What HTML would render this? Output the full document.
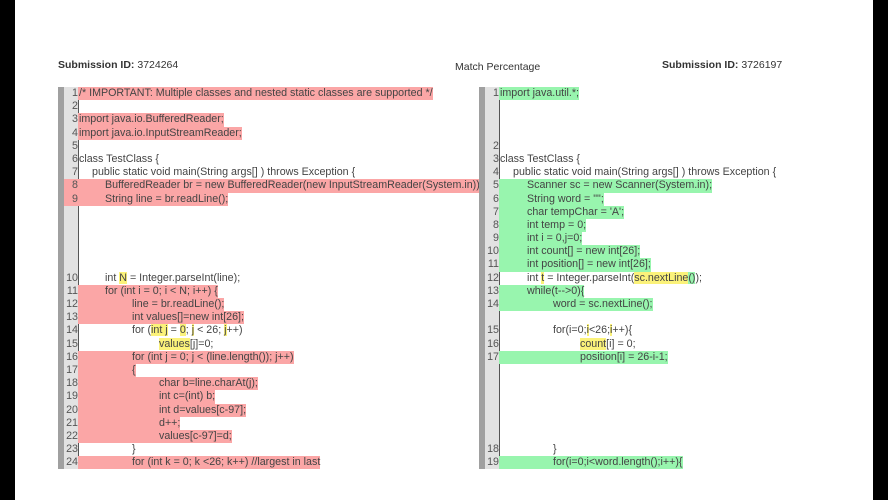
<!DOCTYPE html>
<html><head><meta charset="utf-8"><style>
*{margin:0;padding:0;box-sizing:border-box}
body{width:888px;height:500px;background:#fff;position:relative;overflow:hidden;font-family:"Liberation Sans",sans-serif;color:#444;font-size:10.7px}
.bl{position:absolute;top:0;left:0;width:15px;height:500px;background:#000}
.br{position:absolute;top:0;left:873px;width:15px;height:500px;background:#000}
.h{position:absolute;top:59px;font-size:10.5px;color:#333}
.h b{font-weight:bold}
.p{position:absolute;top:87px;height:382px}
.g{position:absolute;top:0;width:6px;height:100%;background:#a0a0a0}
.nc{position:absolute;top:0;height:100%;background:#e2e2e2;border-right:1.5px solid #555}
.r{height:13.2px;line-height:13.2px;position:relative;white-space:pre}
.n{position:absolute;text-align:right;color:#555}
.c{position:absolute;top:0;height:13.2px}
.red{background:#fba6a6}.grn{background:#98f5ae}.y{background:#fbf27a}
</style></head><body>
<div class="bl"></div><div class="br"></div>
<div class="h" style="left:58px"><b>Submission ID:</b> 3724264</div>
<div class="h" style="left:455px;top:61px">Match Percentage</div>
<div class="h" style="left:662px"><b>Submission ID:</b> 3726197</div>

<div class="p" style="left:58px;width:422px">
<div class="g" style="left:0"></div>
<div class="nc" style="left:6px;width:15px"></div>
<div style="position:absolute;left:0;top:0;width:422px">
<div class="r"><span class="n" style="left:6px;width:14px">1</span><span class="c red" style="left:20px;padding-left:1px">/* IMPORTANT: Multiple classes and nested static classes are supported */</span></div>
<div class="r"><span class="n" style="left:6px;width:14px">2</span></div>
<div class="r"><span class="n" style="left:6px;width:14px">3</span><span class="c red" style="left:20px;padding-left:1px">import java.io.BufferedReader;</span></div>
<div class="r"><span class="n" style="left:6px;width:14px">4</span><span class="c red" style="left:20px;padding-left:1px">import java.io.InputStreamReader;</span></div>
<div class="r"><span class="n" style="left:6px;width:14px">5</span></div>
<div class="r"><span class="n" style="left:6px;width:14px">6</span><span class="c" style="left:20px;padding-left:1px">class TestClass {</span></div>
<div class="r"><span class="n" style="left:6px;width:14px">7</span><span class="c" style="left:20px;padding-left:14px">public static void main(String args[] ) throws Exception {</span></div>
<div class="r"><span class="n red" style="left:6px;width:14px">8</span><span class="c red" style="left:20px;padding-left:27px">BufferedReader br = new BufferedReader(new InputStreamReader(System.in));</span></div>
<div class="r"><span class="n red" style="left:6px;width:14px">9</span><span class="c red" style="left:20px;padding-left:27px">String line = br.readLine();</span></div>
<div class="r"></div><div class="r"></div><div class="r"></div><div class="r"></div><div class="r"></div>
<div class="r"><span class="n" style="left:6px;width:14px">10</span><span class="c" style="left:20px;padding-left:27px">int <span class="y">N</span> = Integer.parseInt(line);</span></div>
<div class="r"><span class="n" style="left:6px;width:14px">11</span><span class="c red" style="left:20px;padding-left:27px">for (int i = 0; i &lt; N; i++) {</span></div>
<div class="r"><span class="n" style="left:6px;width:14px">12</span><span class="c red" style="left:20px;padding-left:54px">line = br.readLine();</span></div>
<div class="r"><span class="n" style="left:6px;width:14px">13</span><span class="c red" style="left:20px;padding-left:54px">int values[]=new int[26];</span></div>
<div class="r"><span class="n" style="left:6px;width:14px">14</span><span class="c" style="left:20px;padding-left:54px">for (<span class="y">int j</span> = <span class="y">0</span>; <span class="y">j</span> &lt; 26; <span class="y">j</span>++)</span></div>
<div class="r"><span class="n" style="left:6px;width:14px">15</span><span class="c" style="left:20px;padding-left:81px"><span class="y">values</span>[j]=0;</span></div>
<div class="r"><span class="n" style="left:6px;width:14px">16</span><span class="c red" style="left:20px;padding-left:54px">for (int j = 0; j &lt; (line.length()); j++)</span></div>
<div class="r"><span class="n" style="left:6px;width:14px">17</span><span class="c red" style="left:20px;padding-left:54px">{</span></div>
<div class="r"><span class="n" style="left:6px;width:14px">18</span><span class="c red" style="left:20px;padding-left:81px">char b=line.charAt(j);</span></div>
<div class="r"><span class="n" style="left:6px;width:14px">19</span><span class="c red" style="left:20px;padding-left:81px">int c=(int) b;</span></div>
<div class="r"><span class="n" style="left:6px;width:14px">20</span><span class="c red" style="left:20px;padding-left:81px">int d=values[c-97];</span></div>
<div class="r"><span class="n" style="left:6px;width:14px">21</span><span class="c red" style="left:20px;padding-left:81px">d++;</span></div>
<div class="r"><span class="n" style="left:6px;width:14px">22</span><span class="c red" style="left:20px;padding-left:81px">values[c-97]=d;</span></div>
<div class="r"><span class="n" style="left:6px;width:14px">23</span><span class="c" style="left:20px;padding-left:54px">}</span></div>
<div class="r"><span class="n" style="left:6px;width:14px">24</span><span class="c red" style="left:20px;padding-left:54px">for (int k = 0; k &lt;26; k++) //largest in last</span></div>
</div></div>

<div class="p" style="left:479px;width:390px">
<div class="g" style="left:0"></div>
<div class="nc" style="left:6px;width:15px"></div>
<div style="position:absolute;left:0;top:0;width:390px">
<div class="r"><span class="n" style="left:6px;width:14px">1</span><span class="c grn" style="left:20px;padding-left:1px">import java.util.*;</span></div>
<div class="r"></div><div class="r"></div><div class="r"></div>
<div class="r"><span class="n" style="left:6px;width:14px">2</span></div>
<div class="r"><span class="n" style="left:6px;width:14px">3</span><span class="c" style="left:20px;padding-left:1px">class TestClass {</span></div>
<div class="r"><span class="n" style="left:6px;width:14px">4</span><span class="c" style="left:20px;padding-left:14px">public static void main(String args[] ) throws Exception {</span></div>
<div class="r"><span class="n" style="left:6px;width:14px">5</span><span class="c grn" style="left:20px;padding-left:28px">Scanner sc = new Scanner(System.in);</span></div>
<div class="r"><span class="n" style="left:6px;width:14px">6</span><span class="c grn" style="left:20px;padding-left:28px">String word = "";</span></div>
<div class="r"><span class="n" style="left:6px;width:14px">7</span><span class="c grn" style="left:20px;padding-left:28px">char tempChar = 'A';</span></div>
<div class="r"><span class="n" style="left:6px;width:14px">8</span><span class="c grn" style="left:20px;padding-left:28px">int temp = 0;</span></div>
<div class="r"><span class="n" style="left:6px;width:14px">9</span><span class="c grn" style="left:20px;padding-left:28px">int i = 0,j=0;</span></div>
<div class="r"><span class="n" style="left:6px;width:14px">10</span><span class="c grn" style="left:20px;padding-left:28px">int count[] = new int[26];</span></div>
<div class="r"><span class="n" style="left:6px;width:14px">11</span><span class="c grn" style="left:20px;padding-left:28px">int position[] = new int[26];</span></div>
<div class="r"><span class="n" style="left:6px;width:14px">12</span><span class="c" style="left:20px;padding-left:28px">int <span class="y">t</span> = Integer.parseInt(<span class="y">sc.nextLine</span><span class="grn">()</span>);</span></div>
<div class="r"><span class="n" style="left:6px;width:14px">13</span><span class="c grn" style="left:20px;padding-left:28px">while(t--&gt;0){</span></div>
<div class="r"><span class="n" style="left:6px;width:14px">14</span><span class="c grn" style="left:20px;padding-left:54px">word = sc.nextLine();</span></div>
<div class="r"></div>
<div class="r"><span class="n" style="left:6px;width:14px">15</span><span class="c" style="left:20px;padding-left:54px">for(i=0;<span class="y">i</span>&lt;26;<span class="y">i</span>++){</span></div>
<div class="r"><span class="n" style="left:6px;width:14px">16</span><span class="c" style="left:20px;padding-left:81px"><span class="y">count</span>[i] = 0;</span></div>
<div class="r"><span class="n" style="left:6px;width:14px">17</span><span class="c grn" style="left:20px;padding-left:81px">position[i] = 26-i-1;</span></div>
<div class="r"></div><div class="r"></div><div class="r"></div><div class="r"></div><div class="r"></div><div class="r"></div>
<div class="r"><span class="n" style="left:6px;width:14px">18</span><span class="c" style="left:20px;padding-left:54px">}</span></div>
<div class="r"><span class="n" style="left:6px;width:14px">19</span><span class="c grn" style="left:20px;padding-left:54px">for(i=0;i&lt;word.length();i++){</span></div>
</div></div>
</body></html>
